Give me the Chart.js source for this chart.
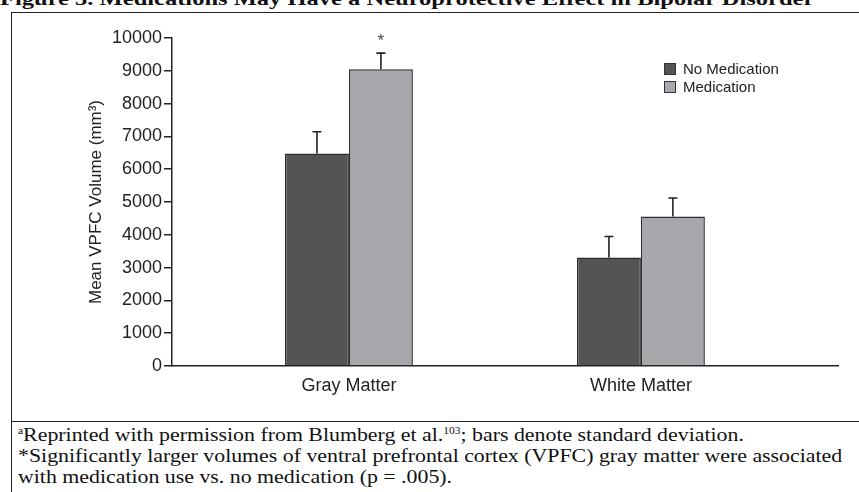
<!DOCTYPE html>
<html>
<head>
<meta charset="utf-8">
<script src="https://cdn.jsdelivr.net/npm/chart.js@4.4.1/dist/chart.umd.min.js"></script>
<style>
  html, body { margin: 0; padding: 0; background: #fff; }
  body { width: 859px; height: 492px; position: relative; overflow: hidden; }
  #title { position: absolute; left: 0; top: -11px; font: bold 19px 'Liberation Serif', 'Times New Roman', serif; line-height: 19px; color: #111; white-space: nowrap; transform: scaleX(1.29); transform-origin: 0 0; }
  #frame { position: absolute; left: 11px; top: 12px; width: 900px; height: 520px; border: 1.5px solid #222; box-sizing: border-box; }
  #sep { position: absolute; left: 11px; top: 421px; width: 900px; height: 0; border-top: 1.5px solid #222; }
  #chart { position: absolute; left: 0; top: 0; }
  #legend { position: absolute; left: 664px; top: 60px; font: 15px 'Liberation Sans', Arial, sans-serif; color: #222; }
  #legend div { height: 18px; line-height: 18px; white-space: nowrap; }
  #legend span.box { display: inline-block; width: 10px; height: 10px; border: 1.5px solid #333; margin-right: 7px; vertical-align: -1px; }
  #notes { position: absolute; left: 18px; top: 424px; font: 19px 'Liberation Serif', 'Times New Roman', serif; line-height: 21px; color: #111; white-space: nowrap; transform: scaleX(1.15); transform-origin: 0 0; }
  #notes sup { font-size: 10px; line-height: 0; }
</style>
</head>
<body>
<div id="title">Figure 3. Medications May Have a Neuroprotective Effect in Bipolar Disorder</div>
<div id="frame"></div>
<div id="sep"></div>
<canvas id="chart" width="859" height="422"></canvas>
<div id="legend"></div>
<div id="notes">
  <div><sup>a</sup>Reprinted with permission from Blumberg et al.<sup>103</sup>; bars denote standard deviation.</div>
  <div>*Significantly larger volumes of ventral prefrontal cortex (VPFC) gray matter were associated</div>
  <div>with medication use vs. no medication (p = .005).</div>
</div>
<script>
const categories = ['Gray Matter', 'White Matter'];
const seriesNames = ['No Medication', 'Medication'];
const noMedMean = [6480, 3310];
const noMedSD = [660, 640];
const medMean = [9050, 4560];
const medSD = [490, 560];
const medMarks = ['*', ''];
const seriesColors = ['#545456', '#a7a8ab'];

document.addEventListener('DOMContentLoaded', function() {
  const toPoints = arr => arr.map((v, i) => ({ x: i + 1, y: v }));
  const font = "'Liberation Sans', Arial, sans-serif";

  // error bars + significance marks
  const errorBars = {
    id: 'errorBars',
    afterDatasetsDraw(chart) {
      const ctx = chart.ctx, yScale = chart.scales.y;
      chart.data.datasets.forEach((ds, i) => {
        const meta = chart.getDatasetMeta(i);
        meta.data.forEach((el, j) => {
          const top = yScale.getPixelForValue(ds.data[j].y + ds.sd[j]);
          ctx.save();
          ctx.strokeStyle = '#222';
          ctx.lineWidth = 1.6;
          ctx.beginPath();
          ctx.moveTo(el.x, el.y);
          ctx.lineTo(el.x, top);
          ctx.moveTo(el.x - 4.5, top);
          ctx.lineTo(el.x + 4.5, top);
          ctx.stroke();
          if (ds.marks && ds.marks[j]) {
            ctx.fillStyle = '#444';
            ctx.font = '17px ' + font;
            ctx.textAlign = 'center';
            ctx.textBaseline = 'middle';
            ctx.fillText(ds.marks[j], el.x, top - 12);
          }
          ctx.restore();
        });
      });
    }
  };

  const chart = new Chart(document.getElementById('chart'), {
    type: 'bar',
    data: {
      datasets: [
        { label: seriesNames[0], data: toPoints(noMedMean), sd: noMedSD, backgroundColor: seriesColors[0], borderColor: '#2e2e2e', borderWidth: 1.5 },
        { label: seriesNames[1], data: toPoints(medMean), sd: medSD, marks: medMarks, backgroundColor: seriesColors[1], borderColor: '#2e2e2e', borderWidth: 1.5 }
      ]
    },
    options: {
      responsive: false, animation: false,
      barPercentage: 1, categoryPercentage: 0.438,
      layout: { padding: { left: 0, top: 38, right: 21, bottom: 0 } },
      plugins: { legend: { display: false }, tooltip: { enabled: false } },
      scales: {
        x: {
          type: 'linear', min: 0.394, max: 2.675, offset: false,
          afterBuildTicks: s => { s.ticks = categories.map((c, i) => ({ value: i + 1 })); },
          afterFit: s => { s.height = 56; },
          ticks: { callback: v => categories[v - 1], color: '#222', padding: 9, maxRotation: 0, font: { family: font, size: 18 } },
          grid: { display: true, drawOnChartArea: false, drawTicks: false },
          border: { color: '#222', width: 1.5 }
        },
        y: {
          min: 0, max: 10000,
          afterFit: s => { s.width = 172; },
          ticks: { stepSize: 1000, callback: v => String(v), color: '#222', padding: 2, font: { family: font, size: 18 } },
          grid: { drawOnChartArea: false, drawTicks: true, tickLength: 8, color: '#222', lineWidth: 1.5 },
          border: { color: '#222', width: 1.5 },
          title: { display: true, text: 'Mean VPFC Volume (mm³)', color: '#222', padding: { top: 86, bottom: 0 }, font: { family: font, size: 17 } }
        }
      }
    },
    plugins: [errorBars]
  });

  // legend built from the datasets
  const legend = document.getElementById('legend');
  chart.data.datasets.forEach(ds => {
    const row = document.createElement('div');
    row.innerHTML = '<span class="box" style="background:' + ds.backgroundColor + '"></span>' + ds.label;
    legend.appendChild(row);
  });
});
</script>
</body>
</html>
